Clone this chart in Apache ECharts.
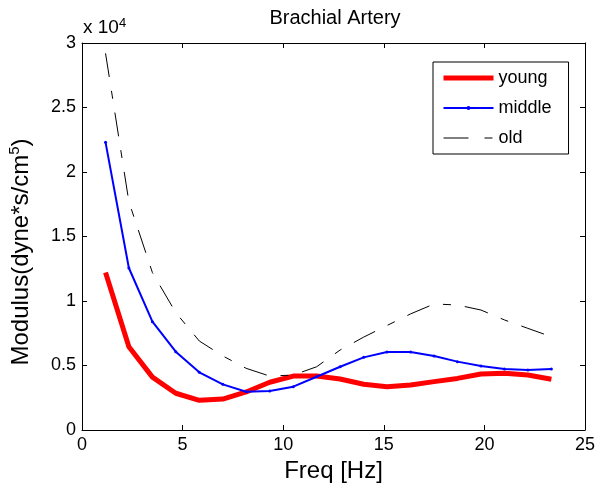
<!DOCTYPE html>
<html>
<head>
<meta charset="utf-8">
<script src="https://cdn.jsdelivr.net/npm/echarts@6/dist/echarts.min.js"></script>
<style>
  html, body { margin: 0; padding: 0; background: #fff; }
  #main { width: 598px; height: 490px; }
</style>
</head>
<body>
<div id="main"></div>
<script>
// data (modulus in dyne*s/cm^5)
let freq = [1.17, 2.33, 3.5, 4.66, 5.83, 7.0, 8.16, 9.33, 10.5, 11.66, 12.83, 14.0, 15.16, 16.33, 17.5, 18.66, 19.83, 21.0, 22.16, 23.33];
let young = [12200, 6450, 4100, 2850, 2300, 2400, 2950, 3700, 4180, 4180, 3950, 3550, 3360, 3490, 3750, 4000, 4340, 4400, 4260, 3930];
let middle = [22300, 12560, 8400, 6070, 4470, 3540, 2970, 3020, 3360, 4130, 4900, 5630, 6050, 6050, 5740, 5300, 4960, 4730, 4650, 4730];
let old = [29200, 17700, 12200, 9100, 6900, 5740, 4780, 4180, 4260, 4900, 6200, 7200, 8100, 9000, 9770, 9690, 9300, 8530, 7880, 7230];
let seriesNames = ['young', 'middle', 'old'];

let pairs = function(ys){
  return freq.map(function(f, i){ return [f, ys[i]]; });
};

let font = 'Liberation Sans, Arial, sans-serif';
let dashDot = [24, 14, 8, 14];
let chart = echarts.init(document.getElementById('main'));

let boxAxis = {
  axisLine: { show: true, onZero: false, lineStyle: { color: '#000', width: 1 } },
  axisTick: { show: true, inside: true, length: 5, lineStyle: { color: '#000' } },
  splitLine: { show: false }
};

let option = {
  animation: false,
  backgroundColor: '#fff',
  title: {
    text: 'Brachial Artery',
    left: 330, top: 3, textAlign: 'center',
    textStyle: { fontFamily: font, fontSize: 20, fontWeight: 'normal', color: '#000' }
  },
  grid: { left: 82, right: 13, top: 43, bottom: 60 },
  xAxis: [
    Object.assign({}, boxAxis, {
      type: 'value', min: 0, max: 25, interval: 5,
      name: 'Freq [Hz]', nameLocation: 'middle', nameGap: 23,
      nameTextStyle: { fontFamily: font, fontSize: 24, color: '#000' },
      axisLabel: { fontFamily: font, fontSize: 18, color: '#000', margin: 6 }
    }),
    Object.assign({}, boxAxis, {
      type: 'value', min: 0, max: 25, interval: 5, position: 'top',
      axisLabel: { show: false }
    })
  ],
  yAxis: [
    Object.assign({}, boxAxis, {
      type: 'value', min: 0, max: 30000, interval: 5000,
      axisLabel: {
        fontFamily: font, fontSize: 18, color: '#000', margin: 6,
        formatter: function(v){ return String(v / 10000); }
      }
    }),
    Object.assign({}, boxAxis, {
      type: 'value', min: 0, max: 30000, interval: 5000, position: 'right',
      axisLabel: { show: false }
    })
  ],
  graphic: [
    {
      type: 'text', left: 83, top: 17,
      style: {
        text: '{a|x 10}{s|4}',
        rich: {
          a: { fontFamily: font, fontSize: 19, fill: '#000', lineHeight: 22 },
          s: { fontFamily: font, fontSize: 13, fill: '#000', verticalAlign: 'top', lineHeight: 22, padding: [0, 0, 10, 0] }
        }
      }
    },
    {
      // y axis title, rotated, with superscript
      type: 'text', x: 21, y: 252, rotation: Math.PI / 2,
      style: {
        text: '{a|Modulus(dyne*s/cm}{s|5}{a|)}',
        align: 'center', verticalAlign: 'middle',
        rich: {
          a: { fontFamily: font, fontSize: 24, fill: '#000', lineHeight: 28 },
          s: { fontFamily: font, fontSize: 15, fill: '#000', verticalAlign: 'top', lineHeight: 28, padding: [0, 0, 12, 0] }
        }
      }
    }
  ],
  legend: {
    orient: 'vertical', left: 433, top: 62,
    padding: [7, 17, 7, 8], itemGap: 12, itemWidth: 50, itemHeight: 5,
    borderColor: '#000', borderWidth: 1, borderRadius: 0, backgroundColor: '#fff',
    textStyle: { fontFamily: font, fontSize: 18, color: '#000', lineHeight: 18 },
    data: [
      { name: seriesNames[0], lineStyle: { width: 5 } },
      { name: seriesNames[1], lineStyle: { width: 2 } },
      { name: seriesNames[2], itemStyle: { opacity: 0 }, lineStyle: { width: 1, type: [25, 16, 8, 16] } }
    ]
  },
  series: [
    {
      name: seriesNames[0], type: 'line', data: pairs(young),
      symbol: 'none', color: '#ff0000',
      lineStyle: { color: '#ff0000', width: 5 }
    },
    {
      name: seriesNames[1], type: 'line', data: pairs(middle),
      symbol: 'circle', symbolSize: 3, showSymbol: true, color: '#0000ff',
      itemStyle: { color: '#0000ff' },
      lineStyle: { color: '#0000ff', width: 2 }
    },
    {
      name: seriesNames[2], type: 'line', data: pairs(old),
      symbol: 'none', color: '#000',
      lineStyle: { color: '#000', width: 1, type: dashDot }
    }
  ]
};

chart.setOption(option);
</script>
</body>
</html>
